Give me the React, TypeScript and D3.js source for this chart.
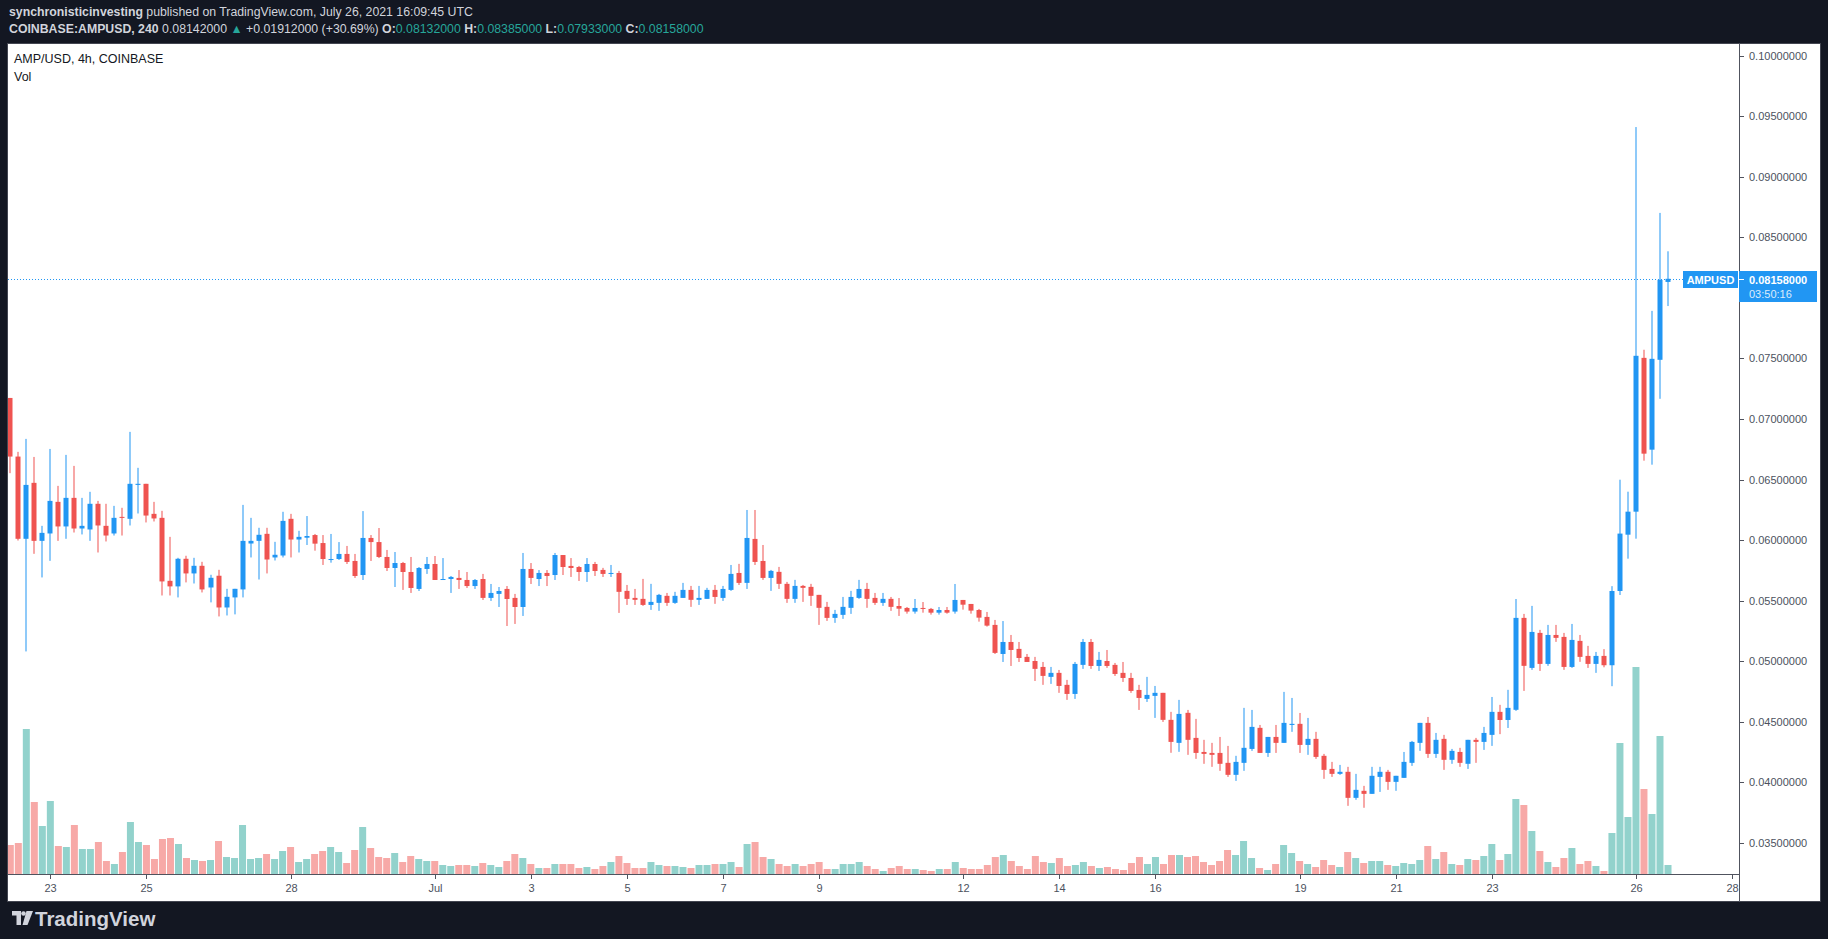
import React from 'react';
import * as d3 from 'd3';

// 4h candles from Jun 22 04:00 UTC to Jul 26 16:00 UTC, [open, high, low, close]
const candles: [number, number, number, number][] = [
  [0.07174, 0.07174, 0.06553, 0.0669], [0.0669, 0.06729, 0.05997, 0.06011], [0.06011, 0.06836, 0.05081, 0.06456],
  [0.06473, 0.06687, 0.05887, 0.05994], [0.05994, 0.06118, 0.05692, 0.0606], [0.06055, 0.06753, 0.05829, 0.06324],
  [0.06316, 0.06448, 0.05994, 0.06113], [0.06113, 0.06704, 0.06011, 0.06349], [0.06349, 0.06613, 0.06063, 0.06096],
  [0.06096, 0.06349, 0.06047, 0.06118], [0.06088, 0.06399, 0.05994, 0.063], [0.063, 0.06324, 0.05898, 0.06121],
  [0.06118, 0.063, 0.05989, 0.06038], [0.06055, 0.06283, 0.06038, 0.06184], [0.06192, 0.06267, 0.06038, 0.06184],
  [0.06176, 0.06894, 0.06121, 0.06465], [0.06456, 0.06597, 0.0622, 0.06465], [0.06465, 0.06465, 0.06146, 0.06203],
  [0.06217, 0.06316, 0.06154, 0.06179], [0.06184, 0.06242, 0.05543, 0.05659], [0.05664, 0.06027, 0.05543, 0.05618],
  [0.05618, 0.05854, 0.05527, 0.05846], [0.05846, 0.05871, 0.05651, 0.05725], [0.05725, 0.05854, 0.05642, 0.05788],
  [0.05788, 0.05821, 0.05568, 0.05593], [0.05609, 0.05714, 0.05486, 0.05689], [0.05706, 0.05755, 0.0537, 0.05444],
  [0.05444, 0.05598, 0.05378, 0.05532], [0.05527, 0.05598, 0.05387, 0.05598], [0.05593, 0.06291, 0.05527, 0.05994],
  [0.05972, 0.06184, 0.05857, 0.05994], [0.05994, 0.06102, 0.05675, 0.06044], [0.06052, 0.06102, 0.05725, 0.0584],
  [0.05857, 0.05986, 0.05832, 0.05879], [0.05873, 0.06234, 0.05857, 0.06159], [0.06176, 0.06217, 0.05857, 0.06005],
  [0.06005, 0.06077, 0.05898, 0.06027], [0.0602, 0.06199, 0.0596, 0.06034], [0.06042, 0.06051, 0.05913, 0.05971],
  [0.05976, 0.06042, 0.05795, 0.05844], [0.05836, 0.06051, 0.05814, 0.05844], [0.05844, 0.05984, 0.05836, 0.05886],
  [0.05886, 0.05952, 0.05803, 0.0582], [0.05828, 0.05886, 0.05688, 0.05704], [0.05712, 0.0624, 0.05671, 0.06018],
  [0.06018, 0.06042, 0.05828, 0.05984], [0.05984, 0.061, 0.05852, 0.05861], [0.05861, 0.05919, 0.05745, 0.0577],
  [0.0577, 0.05902, 0.05613, 0.05811], [0.05811, 0.0582, 0.05589, 0.05737], [0.05737, 0.05861, 0.05564, 0.05605],
  [0.05597, 0.05778, 0.0558, 0.0577], [0.05762, 0.05861, 0.05721, 0.05803], [0.05803, 0.05869, 0.05671, 0.05671],
  [0.05671, 0.05852, 0.05671, 0.05679], [0.05679, 0.05704, 0.05564, 0.05696], [0.05688, 0.05753, 0.05597, 0.05671],
  [0.05671, 0.05737, 0.05605, 0.05621], [0.05621, 0.05679, 0.05597, 0.05671], [0.05679, 0.05721, 0.05506, 0.05523],
  [0.05523, 0.05638, 0.05498, 0.05564], [0.05556, 0.05613, 0.05448, 0.0558], [0.05597, 0.05621, 0.05291, 0.05514],
  [0.05523, 0.05556, 0.05308, 0.05448], [0.05448, 0.05894, 0.05374, 0.05762], [0.05762, 0.05811, 0.05638, 0.05688],
  [0.05679, 0.05753, 0.05621, 0.05729], [0.05729, 0.05753, 0.05621, 0.05704], [0.05712, 0.05894, 0.05671, 0.05877],
  [0.05877, 0.05877, 0.05712, 0.05778], [0.05787, 0.05852, 0.05696, 0.0577], [0.05778, 0.05787, 0.05663, 0.05737],
  [0.05737, 0.05852, 0.05655, 0.05803], [0.05803, 0.0582, 0.05704, 0.05745], [0.05754, 0.05771, 0.05696, 0.05721],
  [0.05721, 0.05795, 0.05696, 0.05729], [0.05729, 0.05746, 0.05399, 0.05573], [0.05581, 0.0563, 0.05465, 0.05515],
  [0.05523, 0.05597, 0.05465, 0.05507], [0.05515, 0.0568, 0.05457, 0.05465], [0.05465, 0.05639, 0.05424, 0.0549],
  [0.05482, 0.05556, 0.05416, 0.05548], [0.0554, 0.05564, 0.05457, 0.05482], [0.05482, 0.05573, 0.05474, 0.0554],
  [0.05523, 0.05647, 0.05523, 0.05589], [0.05589, 0.05622, 0.05449, 0.05507], [0.05507, 0.05622, 0.05465, 0.05523],
  [0.05515, 0.05606, 0.05515, 0.05589], [0.05589, 0.0563, 0.05474, 0.05531], [0.05523, 0.05622, 0.05498, 0.05597],
  [0.05589, 0.05795, 0.05581, 0.05721], [0.05729, 0.05804, 0.0563, 0.05647], [0.05647, 0.06249, 0.05597, 0.06018],
  [0.0601, 0.06249, 0.05795, 0.0582], [0.05828, 0.0596, 0.05672, 0.05688], [0.05688, 0.05754, 0.05581, 0.05746],
  [0.05738, 0.05779, 0.05597, 0.05639], [0.05639, 0.05655, 0.05482, 0.05515], [0.05515, 0.05672, 0.05482, 0.05622],
  [0.05622, 0.0563, 0.0549, 0.05606], [0.05614, 0.05639, 0.05457, 0.0554], [0.05548, 0.05548, 0.053, 0.05441],
  [0.05449, 0.0549, 0.05333, 0.05358], [0.05358, 0.05424, 0.05317, 0.05391], [0.05383, 0.05531, 0.0535, 0.05449],
  [0.05441, 0.05581, 0.05391, 0.05531], [0.05523, 0.05672, 0.05515, 0.05597], [0.05597, 0.05647, 0.05441, 0.05515],
  [0.05523, 0.05564, 0.05465, 0.05482], [0.05482, 0.05564, 0.05457, 0.05515], [0.05515, 0.05531, 0.05416, 0.05449],
  [0.05456, 0.05522, 0.05374, 0.05434], [0.0544, 0.05448, 0.05393, 0.0541], [0.0541, 0.05514, 0.05393, 0.0544],
  [0.0544, 0.05489, 0.05401, 0.05432], [0.05432, 0.0544, 0.05385, 0.05401], [0.05401, 0.05448, 0.05385, 0.05423],
  [0.05423, 0.05448, 0.05393, 0.05401], [0.0541, 0.05638, 0.05393, 0.05506], [0.05506, 0.05506, 0.05426, 0.05467],
  [0.05473, 0.05473, 0.05393, 0.05418], [0.05423, 0.05432, 0.05327, 0.0536], [0.05366, 0.05407, 0.05286, 0.05294],
  [0.053, 0.05341, 0.0506, 0.05069], [0.0506, 0.05332, 0.04994, 0.05159], [0.05159, 0.05217, 0.04961, 0.05093],
  [0.05102, 0.05159, 0.04994, 0.05027], [0.05036, 0.0506, 0.04994, 0.04994], [0.05002, 0.05036, 0.04837, 0.04937],
  [0.04953, 0.04994, 0.04805, 0.04879], [0.04871, 0.04953, 0.04813, 0.04904], [0.04904, 0.04928, 0.04739, 0.04796],
  [0.04805, 0.04846, 0.04681, 0.0473], [0.0473, 0.04994, 0.04689, 0.04978], [0.0497, 0.05184, 0.04937, 0.05159],
  [0.05159, 0.05184, 0.04937, 0.04961], [0.04961, 0.05077, 0.0492, 0.05011], [0.05002, 0.05093, 0.04945, 0.04961],
  [0.0497, 0.04986, 0.04879, 0.04895], [0.04904, 0.04994, 0.04829, 0.04862], [0.04862, 0.04904, 0.04739, 0.04755],
  [0.04763, 0.04805, 0.04598, 0.04697], [0.04689, 0.04871, 0.04664, 0.04722], [0.04714, 0.04796, 0.04532, 0.04739],
  [0.04739, 0.04739, 0.04499, 0.04516], [0.04516, 0.04582, 0.04244, 0.04334], [0.04326, 0.04681, 0.04252, 0.04565],
  [0.04574, 0.04598, 0.04227, 0.04351], [0.04367, 0.04524, 0.04194, 0.04243], [0.04251, 0.04351, 0.04153, 0.04235],
  [0.04243, 0.04326, 0.04128, 0.04227], [0.04243, 0.04375, 0.04095, 0.04153], [0.04161, 0.04301, 0.04045, 0.04062],
  [0.04062, 0.04219, 0.04012, 0.04169], [0.04161, 0.04615, 0.04095, 0.04285], [0.04276, 0.04598, 0.0426, 0.04458],
  [0.0445, 0.04474, 0.04243, 0.04243], [0.04243, 0.04375, 0.0421, 0.04375], [0.04375, 0.04474, 0.04243, 0.04326],
  [0.04326, 0.04747, 0.04326, 0.04491], [0.04474, 0.04697, 0.04417, 0.04483], [0.04483, 0.04573, 0.04243, 0.04309],
  [0.04309, 0.04532, 0.04227, 0.04359], [0.04359, 0.04417, 0.04194, 0.0421], [0.04219, 0.04235, 0.04029, 0.04103],
  [0.04111, 0.04169, 0.04045, 0.0407], [0.0407, 0.04144, 0.04062, 0.04087], [0.04087, 0.04128, 0.03806, 0.03872],
  [0.03872, 0.0407, 0.03856, 0.03938], [0.0393, 0.03971, 0.0379, 0.03905], [0.03905, 0.04128, 0.03905, 0.04054],
  [0.04045, 0.04128, 0.03921, 0.04087], [0.04087, 0.04103, 0.03938, 0.04004], [0.04004, 0.04054, 0.0393, 0.04054],
  [0.04037, 0.04251, 0.04037, 0.04169], [0.04161, 0.04342, 0.04136, 0.04334], [0.04326, 0.04491, 0.0426, 0.04491],
  [0.04491, 0.0454, 0.04202, 0.04235], [0.04235, 0.04408, 0.04202, 0.04351], [0.04359, 0.04392, 0.04103, 0.04186],
  [0.04186, 0.04276, 0.04153, 0.0426], [0.04251, 0.04285, 0.04128, 0.04161], [0.04153, 0.04351, 0.04111, 0.04351],
  [0.04351, 0.04367, 0.04161, 0.04334], [0.04334, 0.04458, 0.04268, 0.04408], [0.04392, 0.04705, 0.04301, 0.04582],
  [0.04582, 0.0464, 0.04398, 0.04515], [0.04515, 0.04764, 0.04449, 0.04615], [0.04599, 0.05514, 0.0459, 0.05358],
  [0.05358, 0.05391, 0.04755, 0.04962], [0.04945, 0.05457, 0.04929, 0.05242], [0.05234, 0.05259, 0.0492, 0.04978],
  [0.04978, 0.053, 0.04962, 0.05217], [0.05217, 0.053, 0.0516, 0.05193], [0.05201, 0.05234, 0.04929, 0.04953],
  [0.04953, 0.05308, 0.04945, 0.05176], [0.05168, 0.05217, 0.04995, 0.05036], [0.05044, 0.05127, 0.04945, 0.04978],
  [0.04978, 0.05077, 0.04904, 0.05044], [0.05044, 0.051, 0.0495, 0.04967], [0.04967, 0.0562, 0.04794, 0.0558],
  [0.0558, 0.06499, 0.05547, 0.06054], [0.06045, 0.064, 0.05847, 0.06235], [0.06235, 0.09411, 0.06012, 0.07522],
  [0.07505, 0.07572, 0.06656, 0.06714], [0.06747, 0.07893, 0.06623, 0.07497], [0.07489, 0.08702, 0.07167, 0.08149],
  [0.08132, 0.08385, 0.07933, 0.08158],
];

// volume per candle (read as bar heights, arbitrary units)
const volume = [
  29, 31, 145, 72, 48, 73, 28, 27, 49, 25, 25, 32, 13, 10, 22, 52, 32, 29, 15, 35,
  36, 30, 16, 14, 13, 14, 33, 17, 16, 49, 15, 16, 20, 15, 23, 27, 12, 15, 20, 23,
  27, 22, 11, 24, 47, 26, 17, 16, 21, 12, 18, 15, 13, 13, 9, 8, 9, 9, 8, 11,
  9, 7, 13, 20, 16, 10, 6, 6, 10, 10, 10, 6, 7, 5, 8, 12, 18, 11, 6, 6,
  12, 9, 8, 8, 7, 6, 9, 9, 10, 10, 12, 7, 30, 32, 17, 15, 10, 8, 10, 8,
  10, 12, 5, 5, 10, 10, 12, 8, 5, 3, 6, 8, 5, 5, 4, 3, 5, 5, 12, 6,
  5, 5, 9, 17, 19, 13, 8, 5, 18, 12, 11, 16, 8, 9, 12, 8, 6, 7, 5, 4,
  11, 17, 10, 17, 10, 19, 19, 17, 18, 12, 9, 13, 24, 19, 33, 16, 6, 4, 10, 29,
  21, 13, 10, 7, 14, 9, 7, 22, 16, 11, 13, 13, 9, 8, 11, 10, 14, 28, 15, 22,
  10, 9, 15, 14, 18, 30, 14, 20, 75, 69, 43, 23, 12, 7, 16, 26, 10, 13, 8, 3,
  41, 131, 57, 207, 85, 60, 138, 9,
];

const priceTicks = [0.035, 0.04, 0.045, 0.05, 0.055, 0.06, 0.065, 0.07, 0.075, 0.08, 0.085, 0.09, 0.095, 0.1];
const timeTicks = [
  '2021-06-23', '2021-06-25', '2021-06-28', '2021-07-01', '2021-07-03', '2021-07-05', '2021-07-07', '2021-07-09',
  '2021-07-12', '2021-07-14', '2021-07-16', '2021-07-19', '2021-07-21', '2021-07-23', '2021-07-26', '2021-07-28',
];

const firstBar = Date.UTC(2021, 5, 22, 4);
const barMs = 4 * 3600 * 1000;
const lastPrice = 0.08158;

const UP = '#2196F3';
const DOWN = '#EF5350';
const UP_VOL = '#92D2CC';
const DOWN_VOL = '#F7A9A7';
const FONT = '"Liberation Sans", Arial, sans-serif';

export default function App() {
  const plotLeft = 8;
  const plotRight = 1739;
  const plotTop = 43;
  const plotBottom = 874;

  const x = d3.scaleUtc()
    .domain([new Date(firstBar), new Date(firstBar + (candles.length - 1) * barMs)])
    .range([10.3, 1668]);
  const y = d3.scaleLinear().domain([0.035, 0.1]).range([842.9, 55.7]);
  const vy = d3.scaleLinear().domain([0, d3.max(volume)!]).range([plotBottom, plotBottom - 207]);
  const fmtDay = d3.utcFormat('%-d');
  const fmtMonth = d3.utcFormat('%b');

  const yLast = Math.round(y(lastPrice)) + 0.5;
  // the price label hides the axis labels it covers
  const shownTicks = priceTicks.filter((p) => Math.abs(y(p) - (yLast + 7)) > 18);

  return (
    <svg width={1828} height={939} style={{ position: 'absolute', left: 0, top: 0 }} fontFamily={FONT}>
      <defs>
        <clipPath id="plot">
          <rect x={plotLeft} y={plotTop} width={plotRight - plotLeft} height={plotBottom - plotTop} />
        </clipPath>
      </defs>
      <rect width={1828} height={939} fill="#131722" />

      {/* header */}
      <text x={9} y={16} fontSize={12.3} fill="#D1D4DC">
        <tspan fontWeight="bold">synchronisticinvesting</tspan>
        <tspan> published on TradingView.com, July 26, 2021 16:09:45 UTC</tspan>
      </text>
      <text x={9} y={33} fontSize={12.3} fill="#D1D4DC">
        <tspan fontWeight="bold">COINBASE:AMPUSD, 240 </tspan>
        <tspan>0.08142000 </tspan>
        <tspan fill="#26A69A">▲</tspan>
        <tspan> +0.01912000 (+30.69%) </tspan>
        <tspan fontWeight="bold">O:</tspan><tspan fill="#26A69A">0.08132000 </tspan>
        <tspan fontWeight="bold">H:</tspan><tspan fill="#26A69A">0.08385000 </tspan>
        <tspan fontWeight="bold">L:</tspan><tspan fill="#26A69A">0.07933000 </tspan>
        <tspan fontWeight="bold">C:</tspan><tspan fill="#26A69A">0.08158000</tspan>
      </text>

      {/* chart panel */}
      <rect x={7.5} y={43.5} width={1813} height={858} fill="#FFFFFF" stroke="#434651" />

      <text x={14} y={63} fontSize={12.5} fill="#131722">AMP/USD, 4h, COINBASE</text>
      <text x={14} y={81} fontSize={12.5} fill="#131722">Vol</text>

      <g clipPath="url(#plot)">
        {volume.map((v, i) => {
          const [o, , , c] = candles[i];
          const cx = x(new Date(firstBar + i * barMs));
          return (
            <rect key={'v' + i} x={cx - 3.5} y={vy(v)} width={7} height={plotBottom - vy(v)}
              fill={c >= o ? UP_VOL : DOWN_VOL} />
          );
        })}
        {candles.map(([o, h, l, c], i) => {
          const cx = Math.round(x(new Date(firstBar + i * barMs)));
          const col = c >= o ? UP : DOWN;
          const top = y(Math.max(o, c));
          const bh = Math.max(1, y(Math.min(o, c)) - top);
          return (
            <g key={'c' + i} fill={col}>
              <rect x={cx - 0.5} y={y(h)} width={1} height={y(l) - y(h)} />
              <rect x={cx - 2.5} y={top} width={5} height={bh} />
            </g>
          );
        })}
      </g>

      {/* last price line */}
      <line x1={plotLeft} x2={1683} y1={yLast} y2={yLast} stroke={UP} strokeDasharray="1 2" />

      {/* axes */}
      <line x1={plotLeft} x2={plotRight} y1={plotBottom + 0.5} y2={plotBottom + 0.5} stroke="#50535E" />
      <line x1={plotRight + 0.5} x2={plotRight + 0.5} y1={plotTop} y2={902} stroke="#50535E" />

      {shownTicks.map((p) => (
        <g key={'p' + p}>
          <line x1={plotRight} x2={plotRight + 5} y1={Math.round(y(p)) + 0.5} y2={Math.round(y(p)) + 0.5} stroke="#50535E" />
          <text x={1749} y={y(p) + 4} fontSize={11} fill="#4C525E">{p.toFixed(8)}</text>
        </g>
      ))}

      {timeTicks.map((d) => {
        const date = new Date(d + 'T00:00:00Z');
        const tx = Math.round(x(date)) + 0.5;
        return (
          <g key={'t' + d}>
            <line x1={tx} x2={tx} y1={plotBottom} y2={plotBottom + 5} stroke="#50535E" />
            <text x={tx} y={892} fontSize={11} fill="#4C525E" textAnchor="middle">
              {date.getUTCDate() === 1 ? fmtMonth(date) : fmtDay(date)}
            </text>
          </g>
        );
      })}

      {/* symbol + price labels */}
      <rect x={1683} y={yLast - 8.5} width={55} height={17} fill={UP} />
      <text x={1710.5} y={yLast + 4} fontSize={11} fontWeight="bold" fill="#FFFFFF" textAnchor="middle">AMPUSD</text>
      <rect x={1739} y={yLast - 8.5} width={78} height={31} fill={UP} />
      <line x1={1739} x2={1744} y1={yLast} y2={yLast} stroke="#FFFFFF" />
      <text x={1749} y={yLast + 4} fontSize={11} fontWeight="bold" fill="#FFFFFF">{lastPrice.toFixed(8)}</text>
      <text x={1749} y={yLast + 18} fontSize={11} fill="#DCEBFB">03:50:16</text>

      {/* TradingView logo */}
      <g fill="#D1D4DC">
        <path d="M12,911 H21 V925 H16.5 V915.5 H12 Z" />
        <circle cx={23.5} cy={913.5} r={2.3} />
        <path d="M26.5,911 H33 L27.5,925 H22.5 Z" />
        <text x={35} y={926} fontSize={20.5} fontWeight="bold">TradingView</text>
      </g>
    </svg>
  );
}
